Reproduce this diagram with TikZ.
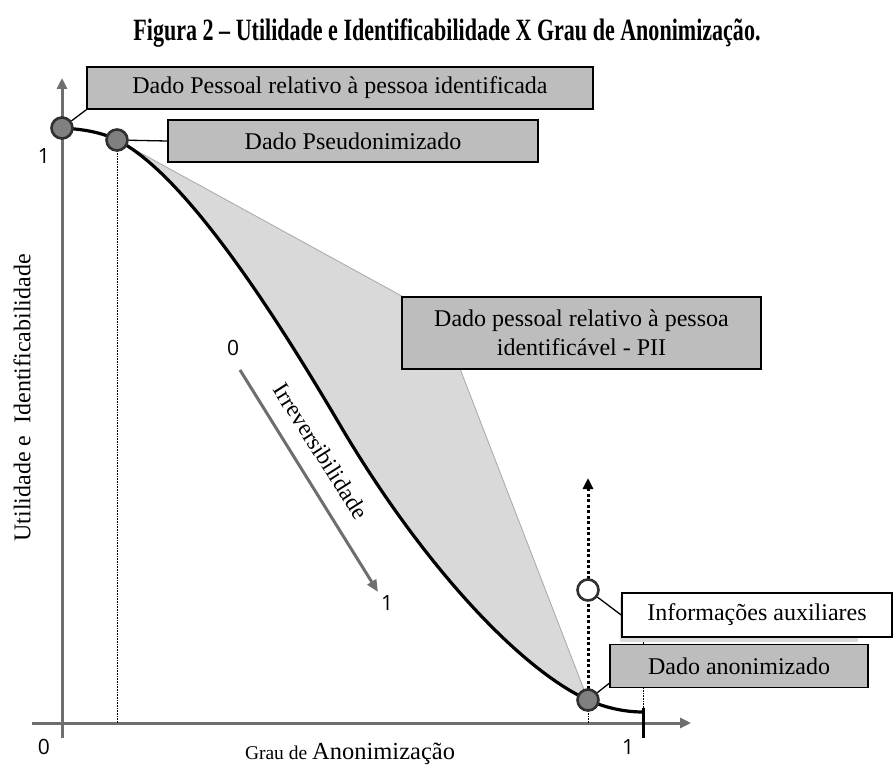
\documentclass[tikz,border=0pt]{standalone}
\usepackage{graphicx}
\usepackage{fontspec}
\setmainfont{Liberation Serif}
\newfontfamily\numfont{Open Sans}
\usetikzlibrary{arrows.meta,calc}
\definecolor{boxgray}{HTML}{BDBDBD}
\definecolor{dotgray}{HTML}{808080}
\definecolor{dotedge}{HTML}{303030}
\definecolor{axisgray}{HTML}{6E6E6E}
\definecolor{shadefill}{HTML}{D9D9D9}
\definecolor{shadeedge}{HTML}{A8A8A8}
\definecolor{shadowgray}{HTML}{DCDCDC}
\begin{document}
\begin{tikzpicture}[x=1pt,y=-1pt,
  lbl/.style={draw=black, line width=1.6pt, fill=boxgray, inner sep=0pt, align=center, font=\fontsize{24}{29}\selectfont},
  dotnode/.style={circle, draw=dotedge, line width=2.6pt, fill=dotgray, minimum size=21pt, inner sep=0pt},
  num/.style={font=\numfont\fontsize{21}{23}\selectfont, inner sep=0pt},
  conn/.style={line width=1.3pt, draw=black},
  axisline/.style={line width=3pt, draw=axisgray, -{Triangle[length=11pt,width=10pt]}},
  thindot/.style={line width=0.6pt, densely dotted, draw=black},
  ]
\fill[white] (0,0) rectangle (893,765);
\path[use as bounding box] (0,0) rectangle (893,765);

% title
\node (title) at (447,33) {\resizebox{627pt}{\height}{\bfseries\fontsize{31}{34}\selectfont Figura 2 – Utilidade e Identificabilidade X Grau de Anonimização.}};

% key coordinates
\coordinate (c0) at (62,128);
\coordinate (s1) at (117,140);
\coordinate (cm) at (340,425);
\coordinate (s2) at (588,700);
\coordinate (cend) at (643,712);
\coordinate (apex) at (440,317);

% shaded region
\fill[shadefill] (s1) .. controls (187,175) and (280,323) .. (cm)
  .. controls (420,561) and (518,668) .. (s2) -- (apex) -- cycle;
\draw[shadeedge, line width=0.8pt] (s1) -- (apex) -- (s2);

% axes
\coordinate (yb) at (62,738);
\coordinate (yt) at (62,78);
\coordinate (xl) at (32,723);
\coordinate (xr) at (691,723);
\draw[axisline] (yb) -- (yt);
\draw[axisline] (xl) -- (xr);

% thin dotted guides
\coordinate (x2) at (117,723);
\coordinate (x3) at (588,723);
\coordinate (t1) at (643,637);
\coordinate (t2) at (643,710);
\draw[thindot] (s1) -- (x2);
\draw[thindot] (s2) -- (x3);
\draw[thindot] (t1) -- (t2);

% tick at 1
\coordinate (tk1) at (643,708);
\coordinate (tk2) at (643,738);
\draw[line width=3pt, black] (tk1) -- (tk2);

% thick dotted arrow
\coordinate (atip) at (588,478);
\draw[line width=3pt, black, dash pattern=on 3pt off 2.5pt, -{Triangle[length=11pt,width=10pt]}] (s2) -- (atip);

% curve
\draw[line width=3.2pt, black] (c0) .. controls (80,129) and (100,131.5) .. (s1)
  .. controls (187,175) and (280,323) .. (cm)
  .. controls (420,561) and (518,668) .. (s2)
  .. controls (606,708) and (625,712) .. (cend);

% irreversibility arrow
\coordinate (ir1) at (240,370);
\coordinate (ir2) at (378,592);
\draw[line width=3pt, axisgray, -{Triangle[length=12pt,width=10pt]}] (ir1) -- (ir2);
\node[rotate=-57.5, font=\fontsize{23.5}{26}\selectfont, inner sep=0pt] (irtxt) at (321,451) {Irreversibilidade};
\node[num] (n0a) at (233,348) {0};
\node[num] (n1a) at (387,603) {1};

% axis numbers
\node[num] (ny1) at (44,156) {1};
\node[num] (nx0) at (44,747) {0};
\node[num] (nx1) at (628,747) {1};

% axis labels
\node[rotate=90, font=\fontsize{24}{26}\selectfont, inner sep=0pt] (ylab) at (22,398) {Utilidade e\ \ Identificabilidade};
\node[inner sep=0pt, anchor=base] (xlab) at (350,759) {\fontsize{19.5}{22}\selectfont Grau de \fontsize{24.5}{27}\selectfont Anonimização};

% boxes
\node[lbl, minimum width=506pt, minimum height=42pt] (b1) at (340,88) {Dado Pessoal relativo à pessoa identificada};
\node[lbl, minimum width=370pt, minimum height=42pt] (b2) at (353,141) {Dado Pseudonimizado};
\node[lbl, minimum width=359pt, minimum height=72pt] (b3) at (581.5,333) {Dado pessoal relativo à pessoa\\identificável - PII};
\fill[shadowgray] (620,597) rectangle (858,642);
\node[lbl, fill=white, minimum width=270pt, minimum height=44pt] (b4) at (757,615) {Informações auxiliares};
\node[lbl, minimum width=258pt, minimum height=43pt] (b5) at (739,666) {Dado anonimizado};

% points
\node[dotnode] (p1) at (c0) {};
\node[dotnode] (p2) at (s1) {};
\node[dotnode] (p3) at (s2) {};
\node[dotnode, fill=white] (p4) at (588,590) {};

% connectors
\draw[conn] (p1) -- (b1.south west);
\draw[conn] (p2) -- (b2.west);
\draw[conn] (p4) -- (b4.west);
\draw[conn] (p3) -- ($(b5.south west)+(0,-5)$);
\end{tikzpicture}
\end{document}
